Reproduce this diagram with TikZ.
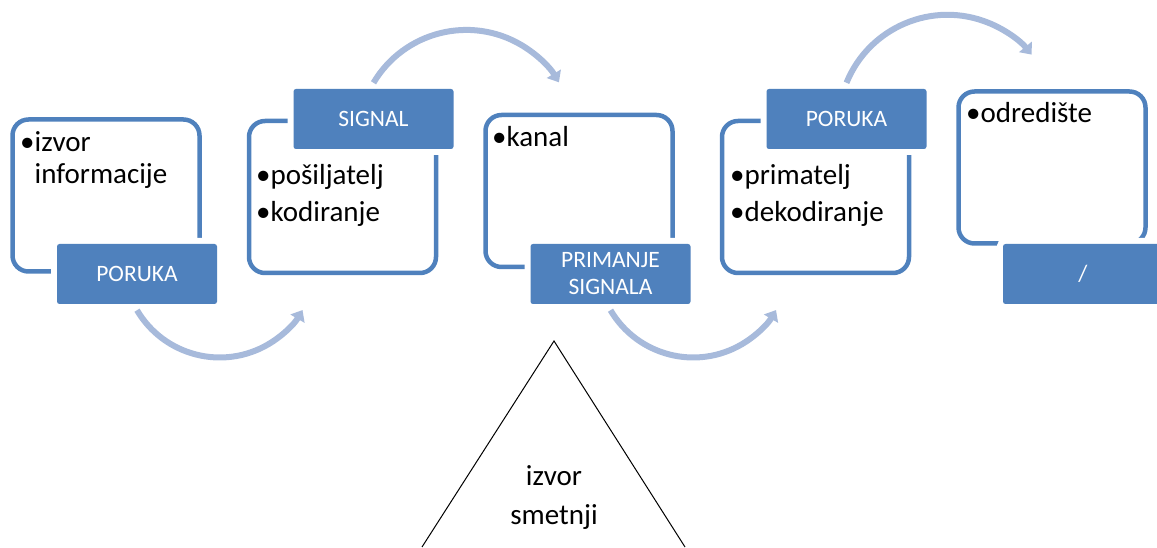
\documentclass[tikz,border=0pt]{standalone}
\usepackage{fontspec}
\setmainfont{Carlito}
\usetikzlibrary{arrows.meta}
\definecolor{plava}{HTML}{4F81BD}
\definecolor{svijetla}{HTML}{A7BADB}
\tikzset{
  okvir/.style={draw=plava, line width=4.5pt, rounded corners=16pt,
    minimum width=187pt, minimum height=152pt, inner sep=0pt},
  oznaka/.style={fill=plava, rounded corners=2.5pt, minimum width=160pt,
    minimum height=60pt, inner sep=0pt, text=white, align=center,
    font=\fontsize{23.5}{27}\selectfont,
    preaction={draw=white, line width=12pt}},
  stavke/.style={anchor=base west, inner sep=0pt, align=left,
    font=\fontsize{29}{32}\selectfont},
  tok/.style={svijetla, line width=6pt, -{Triangle[width=16pt,length=10pt]}},
}

\begin{document}
\begin{tikzpicture}[x=1pt,y=1pt]
  \useasboundingbox (0,0) rectangle (1157,547);
  \clip (0,0) rectangle (1157,547);

  % okviri
  \node[okvir] (okvir1) at (106,351.5) {};
  \node[okvir] (okvir2) at (342.5,350) {};
  \node[okvir] (okvir3) at (579,356) {};
  \node[okvir] (okvir4) at (815.5,350) {};
  \node[okvir] (okvir5) at (1052,379.5) {};

  % oznake
  \node[oznaka] (oznaka1) at (137,273) {PORUKA};
  \node[oznaka] (oznaka2) at (373.5,428) {SIGNAL};
  \node[oznaka] (oznaka3) at (610.5,273) {PRIMANJE\\SIGNALA};
  \node[oznaka] (oznaka4) at (846.5,428) {PORUKA};
  \node[oznaka] (oznaka5) at (1083,273) {/};

  % stavke (base = zadnji redak)
  \node[stavke] (tekst1) at (20,363) {•izvor\\\phantom{•}informacije};
  \node[stavke] (tekst2) at (256,325) {•pošiljatelj\\[5pt]•kodiranje};
  \node[stavke] (tekst3) at (492,400) {•kanal};
  \node[stavke] (tekst4) at (730,325) {•primatelj\\[5pt]•dekodiranje};
  \node[stavke] (tekst5) at (966,424) {•odredište};

  % tok
  \draw[tok] ([yshift=-6pt]oznaka1.south) arc[start angle=210.5, end angle=329.6, radius=96];
  \draw[tok] ([yshift=6pt]oznaka2.north) arc[start angle=149.3, end angle=31, radius=108];
  \draw[tok] ([yshift=-6pt]oznaka3.south) arc[start angle=210.5, end angle=329.6, radius=96];
  \draw[tok] ([yshift=6pt]oznaka4.north) arc[start angle=157.9, end angle=39.4, radius=109];

  % izvor smetnji
  \coordinate (vrh) at (554,206);
  \draw[line width=1pt] (422,0) -- (vrh) -- (685,0);
  \node[anchor=base, inner sep=0pt, align=center, font=\fontsize{29}{39}\selectfont]
    (smetnje) at (554,23) {izvor\\smetnji};
\end{tikzpicture}
\end{document}
